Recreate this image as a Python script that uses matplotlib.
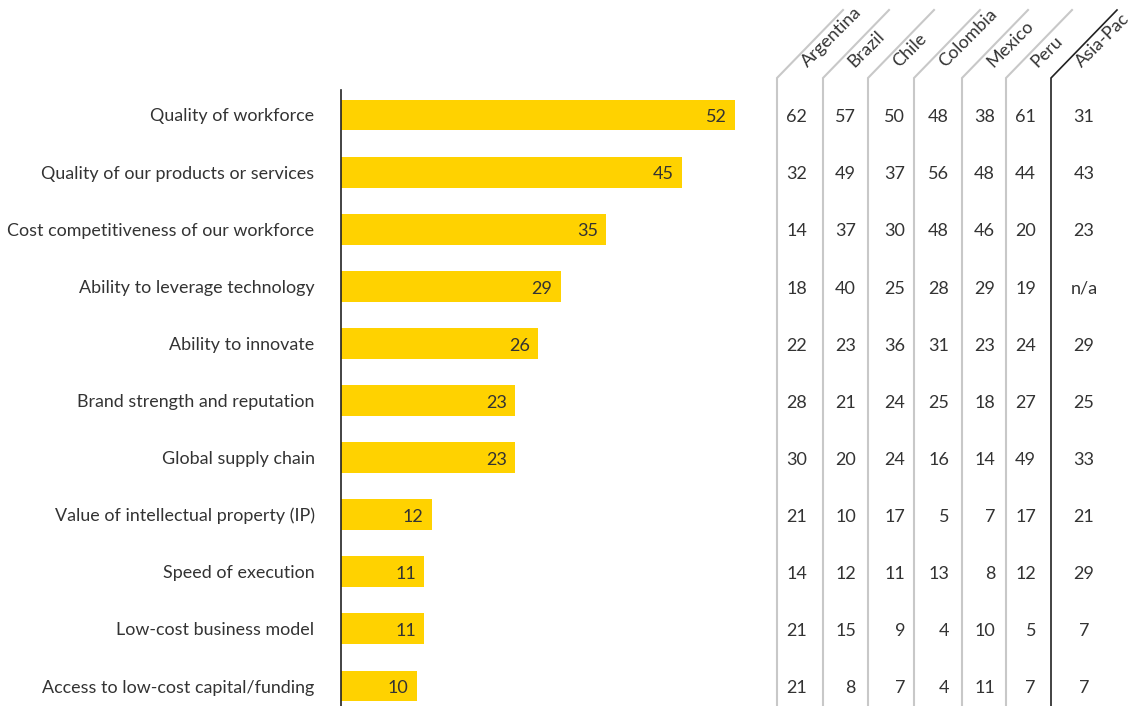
import matplotlib
matplotlib.use("Agg")
import matplotlib.pyplot as plt
from matplotlib.transforms import blended_transform_factory

categories = ["Quality of workforce", "Quality of our products or services",
              "Cost competitiveness of our workforce", "Ability to leverage technology",
              "Ability to innovate", "Brand strength and reputation", "Global supply chain",
              "Value of intellectual property (IP)", "Speed of execution",
              "Low-cost business model", "Access to low-cost capital/funding"]
total = [52, 45, 35, 29, 26, 23, 23, 12, 11, 11, 10]

countries = ["Argentina", "Brazil", "Chile", "Colombia", "Mexico", "Peru", "Asia-Pac"]
argentina = [62, 32, 14, 18, 22, 28, 30, 21, 14, 21, 21]
brazil = [57, 49, 37, 40, 23, 21, 20, 10, 12, 15, 8]
chile = [50, 37, 30, 25, 36, 24, 24, 17, 11, 9, 7]
colombia = [48, 56, 48, 28, 31, 25, 16, 5, 13, 4, 4]
mexico = [38, 48, 46, 29, 23, 18, 14, 7, 8, 10, 11]
peru = [61, 44, 20, 19, 24, 27, 49, 17, 12, 5, 7]
asia_pac = ["31", "43", "23", "n/a", "29", "25", "33", "21", "29", "7", "7"]

W, H = 1143, 706
plt.rcParams['font.family'] = ['Lato', 'DejaVu Sans']
txt = "#333333"
yellow = "#FFD200"
fig = plt.figure(figsize=(W / 100, H / 100), dpi=100)

# bar panel, pixel layout converted to figure fractions
row0, step = 115, 57.1
ax = fig.add_axes([341 / W, 0, 419 / W, 616 / H])
ax.set_xlim(0, 419 / 7.577)
ax.set_ylim((H - row0) / step, (90 - row0) / step)
rows = list(range(len(categories)))
ax.barh(rows, total, height=0.54, color=yellow, left=0)
for r, v in zip(rows, total):
    ax.text(v - 1.1, r + 0.04, str(v), ha="right", va="center", fontsize=13, color=txt)
ax.set_yticks(rows)
ax.set_yticklabels(categories, fontsize=12.9, color=txt)
ax.tick_params(axis="y", length=0, pad=19)
ax.set_xticks([])
for s in ["top", "right", "bottom"]:
    ax.spines[s].set_visible(False)
ax.spines["left"].set_color("#222222")
ax.spines["left"].set_linewidth(1.2)

# table panel in pixel coordinates
tab = fig.add_axes([0, 0, 1, 1], facecolor="none")
tab.set_xlim(0, W)
tab.set_ylim(H, 0)
tab.axis("off")
col_left = [777, 823, 868, 914, 962, 1006, 1051]
for i, (x, name) in enumerate(zip(col_left, countries)):
    c = "#222222" if i == len(countries) - 1 else "#c8c8c8"
    lw = 1.2 if i == len(countries) - 1 else 1.5
    tab.plot([x, x, x + 66], [H, 78, 10], color=c, lw=lw, solid_joinstyle="miter")
    tab.text(x + 31, 68, name, rotation=45, rotation_mode="anchor",
             ha="left", va="baseline", fontsize=13, color=txt)

trans = blended_transform_factory(tab.transData, ax.transData)
right_edge = [807, 856, 905, 949, 995, 1036]
for col, xr in zip([argentina, brazil, chile, colombia, mexico, peru], right_edge):
    for r, v in zip(rows, col):
        tab.text(xr, r + 0.04, str(v), ha="right", va="center", fontsize=13,
                 color=txt, transform=trans)
for r, v in zip(rows, asia_pac):
    tab.text(1084, r + 0.04, v, ha="center", va="center", fontsize=13,
             color=txt, transform=trans)

fig.savefig("out.png", dpi=100)
